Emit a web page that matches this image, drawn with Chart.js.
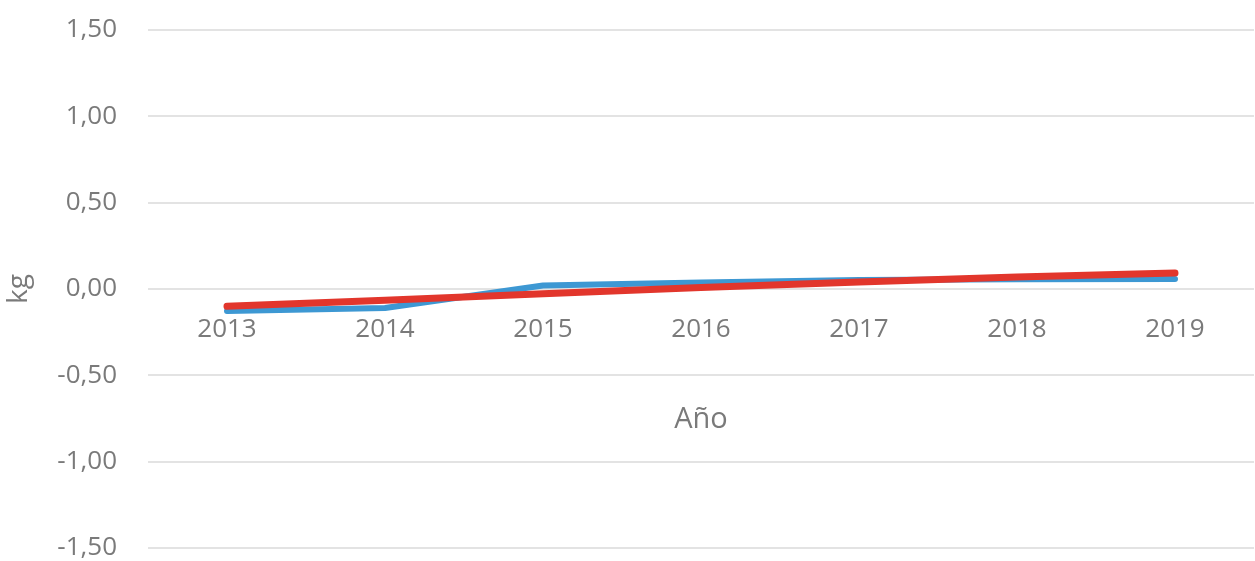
<!DOCTYPE html>
<html>
<head>
<meta charset="utf-8">
<script src="https://cdn.jsdelivr.net/npm/chart.js@4"></script>
<style>
    html, body { margin: 0; padding: 0; background: #ffffff; }
    #wrap { width: 1255px; height: 561px; }
</style>
</head>
<body>
<div id="wrap"><canvas id="kgChart"></canvas></div>
<script>
const years = ['2013', '2014', '2015', '2016', '2017', '2018', '2019'];
const kgValues = [-0.127, -0.11, 0.02, 0.038, 0.052, 0.056, 0.058];
const kgTrend = [-0.10, -0.065, -0.028, 0.008, 0.04, 0.07, 0.092];
const yTicks = [-1.5, -1.0, -0.5, 0.0, 0.5, 1.0, 1.5];

const textGrey = '#7a7a7a';
const fontFamily = '"Open Sans", sans-serif';

// comma decimal, two places: 0,50
function formatKg(v) {
    return v.toFixed(2).replace('.', ',');
}

const ctx = document.getElementById('kgChart').getContext('2d');
new Chart(ctx, {
    type: 'line',
    data: {
        labels: years,
        datasets: [
            {
                label: 'kg',
                data: kgValues,
                borderColor: '#3d98d3',
                borderWidth: 6,
                pointRadius: 0,
                tension: 0,
                borderCapStyle: 'round',
                borderJoinStyle: 'round',
                order: 2
            },
            {
                label: 'Tendencia',
                data: kgTrend,
                borderColor: '#e2362c',
                borderWidth: 7,
                pointRadius: 0,
                tension: 0,
                borderCapStyle: 'round',
                order: 1
            }
        ]
    },
    options: {
        responsive: true,
        maintainAspectRatio: false,
        animation: false,
        layout: {
            padding: { top: 30, right: 1, bottom: 13, left: 0 }
        },
        plugins: {
            legend: { display: false },
            tooltip: { enabled: false }
        },
        scales: {
            x: {
                position: { y: 0 },  // year labels sit under the zero line
                offset: true,
                grid: { display: false, drawTicks: false },
                border: { display: false },
                ticks: {
                    color: textGrey,
                    padding: 25,
                    maxRotation: 0,
                    font: { family: fontFamily, size: 26 }
                },
                title: {
                    display: true,
                    text: 'Año',
                    color: textGrey,
                    padding: { top: 32, bottom: 0 },
                    font: { family: fontFamily, size: 29 }
                }
            },
            y: {
                min: -1.5,
                max: 1.5,
                afterFit: (scale) => {
                    scale.width = 148;
                    // let the end labels overhang; the plot spans the full height
                    scale.paddingTop = 0;
                    scale.paddingBottom = 0;
                },
                afterBuildTicks: (scale) => {
                    scale.ticks = yTicks.map(v => ({ value: v }));
                },
                grid: {
                    color: '#e3e3e3',
                    lineWidth: 2,
                    drawTicks: false
                },
                border: { display: false },
                ticks: {
                    color: textGrey,
                    padding: 31,
                    font: { family: fontFamily, size: 26 },
                    callback: (value) => formatKg(value)
                },
                title: {
                    display: true,
                    text: 'kg',
                    color: textGrey,
                    padding: { top: 2, bottom: 0 },
                    font: { family: fontFamily, size: 28 }
                }
            }
        }
    }
});
</script>
</body>
</html>
